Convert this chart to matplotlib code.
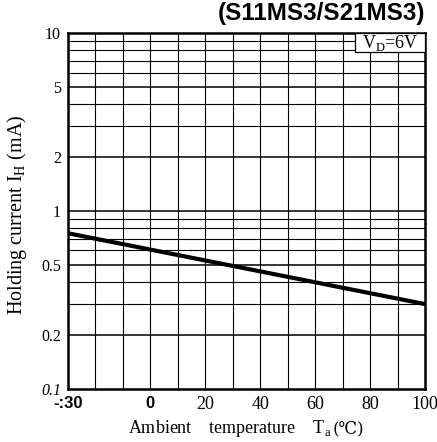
import numpy as np
import matplotlib.pyplot as plt
from matplotlib.patches import Rectangle
from matplotlib.ticker import FixedLocator, NullFormatter

# data
temperature = [-30, 100]
holding_current = [0.75, 0.30]
x_ticks = [-30, 0, 20, 40, 60, 80, 100]
x_tick_labels = ["-:30", "0", "20", "40", "60", "80", "100"]
y_ticks = [0.1, 0.2, 0.5, 1, 2, 5, 10]
y_tick_labels = ["0.1", "0.2", "0.5", "1", "2", "5", "10"]

serif = ["Liberation Serif", "DejaVu Serif"]

fig = plt.figure(figsize=(4.37, 4.42), dpi=100)
ax = fig.add_axes([0.1556, 0.1199, 0.817, 0.8054])
ax.set_yscale("log")
ax.set_xlim(-30, 100)
ax.set_ylim(0.1, 10)

# grid
for xv in np.arange(-20, 100, 10):
    ax.axvline(xv, color="black", lw=0.8, zorder=1)
for dec in [0.1, 1]:
    for m in range(2, 10):
        yv = dec * m
        lw = 1.1 if m in (2, 5) else 0.8
        ax.axhline(yv, color="black", lw=lw, zorder=1)
ax.axhline(1, color="black", lw=1.1, zorder=1)

ax.plot(temperature, holding_current, color="black", lw=3, zorder=3, solid_capstyle="butt")

for s in ax.spines.values():
    s.set_linewidth(1.8)

ax.xaxis.set_major_locator(FixedLocator(x_ticks))
ax.set_xticklabels(x_tick_labels)
ax.yaxis.set_major_locator(FixedLocator(y_ticks))
ax.yaxis.set_minor_formatter(NullFormatter())
ax.set_yticklabels(y_tick_labels)
ax.tick_params(axis="x", length=0, which="both", pad=5)
ax.tick_params(axis="y", length=0, which="both", pad=5)
for lbl in ax.get_xticklabels():
    lbl.set_fontfamily(serif)
    lbl.set_fontsize(13)
for lbl in ax.get_xticklabels()[:2]:
    lbl.set_fontfamily(["Liberation Sans Narrow", "Liberation Sans", "DejaVu Sans"])
    lbl.set_fontweight("bold")
    lbl.set_fontsize(12)
for lbl in ax.get_yticklabels():
    lbl.set_fontfamily(serif)
    lbl.set_fontsize(11.5)
ax.get_yticklabels()[0].set_fontstyle("italic")

ax.set_ylabel("Holding current I$_\\mathregular{H}$ (mA)", fontfamily=serif, fontsize=14.5)
ax.yaxis.set_label_coords(-0.108, 0.49)

# x label: main part then the degree sign in a font that has it
xl = fig.text(128 / 437, 1 - 433 / 442, "Ambient    temperature    T$_\\mathregular{a}$",
              fontfamily=serif, fontsize=13, ha="left", va="baseline")
fig.canvas.draw()
bb = xl.get_window_extent()
fig.text(bb.x1 / fig.bbox.width + 0.003, 1 - 433 / 442, "(\u2103)",
         fontfamily=["DejaVu Serif", "DejaVu Sans"], fontsize=12, ha="left", va="baseline")

# condition box in the top right corner
ax.add_patch(Rectangle((0.804, 0.947), 0.196, 0.053, transform=ax.transAxes,
                       fc="white", ec="black", lw=0.9, zorder=5))
ax.text(0.902, 0.972, "V$_\\mathregular{D}$=6V", transform=ax.transAxes, ha="center", va="center",
        fontfamily=serif, fontsize=13, zorder=6)

fig.text(0.973, 0.995, "(S11MS3/S21MS3)", ha="right", va="top",
         fontfamily=["Liberation Sans", "DejaVu Sans"], fontweight="bold", fontsize=17.5)

fig.savefig("out.png", dpi=100)
